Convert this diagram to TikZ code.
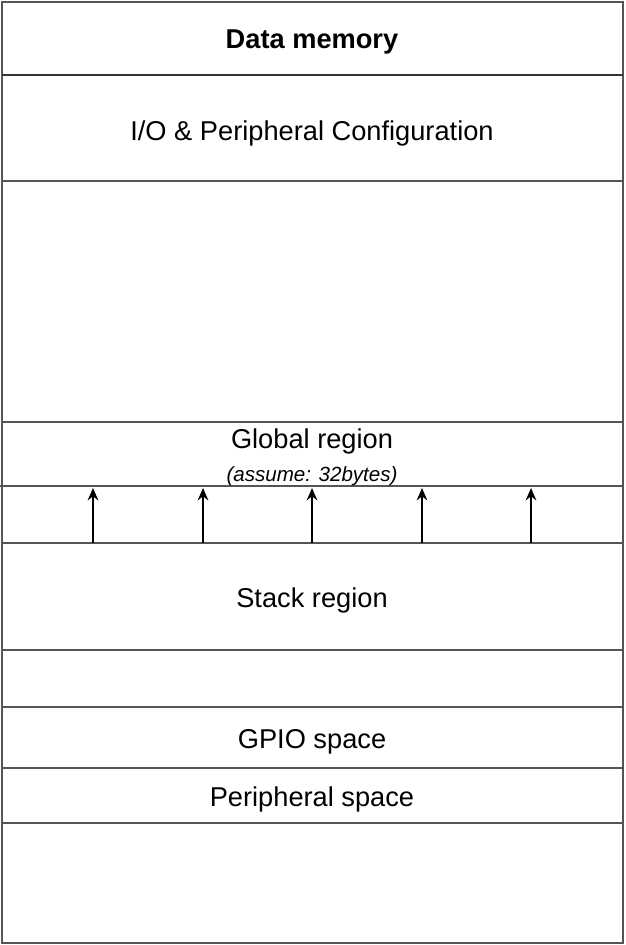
\documentclass[tikz,border=0pt]{standalone}
\usepackage{fontspec}
\setmainfont{Liberation Sans}
\usetikzlibrary{arrows.meta}
\definecolor{MapLine}{HTML}{555555}
\definecolor{MapHead}{HTML}{333333}

\begin{document}
\begin{tikzpicture}[x=0.02cm, y=-0.02cm, >={Stealth[length=7pt, width=6pt]},
    label/.style={font=\fontsize{15.5}{18}\selectfont, inner sep=0pt},
    note/.style={font=\itshape\fontsize{11.7}{14}\selectfont, inner sep=0pt}]
    \useasboundingbox (0,0) rectangle (625,945);

    % Outer frame
    \draw[MapLine, line width=0.7pt] (2,2) rectangle (623,943);

    % Region borders
    \draw[MapHead, line width=1pt] (2,75) -- (623,75);
    \foreach \y in {181,422,543,650,707,768,823}
        \draw[MapLine, line width=0.6pt] (2,\y) -- (623,\y);
    \draw[MapLine, line width=0.6pt] (0,486) -- (623,486);

    % Region labels
    \node[label, font=\bfseries\fontsize{15.5}{18}\selectfont] (title) at (312,42) {Data memory};
    \node[label] (io) at (312,133) {I/O \& Peripheral Configuration};
    \node[label] (global) at (312,441) {Global region};
    \node[note] (globalsize) at (312,476) {(assume: 32bytes)};
    \node[label] (stack) at (312,600) {Stack region};
    \node[label] (gpio) at (312,742) {GPIO space};
    \node[label] (periph) at (312,799) {Peripheral space};

    % Growth arrows
    \foreach \x [count=\i] in {93,203,312,422,531} {
        \coordinate (base\i) at (\x,543);
        \coordinate (tip\i) at (\x,488);
        \draw[->, line width=1.2pt] (base\i) -- (tip\i);
    }
\end{tikzpicture}
\end{document}
